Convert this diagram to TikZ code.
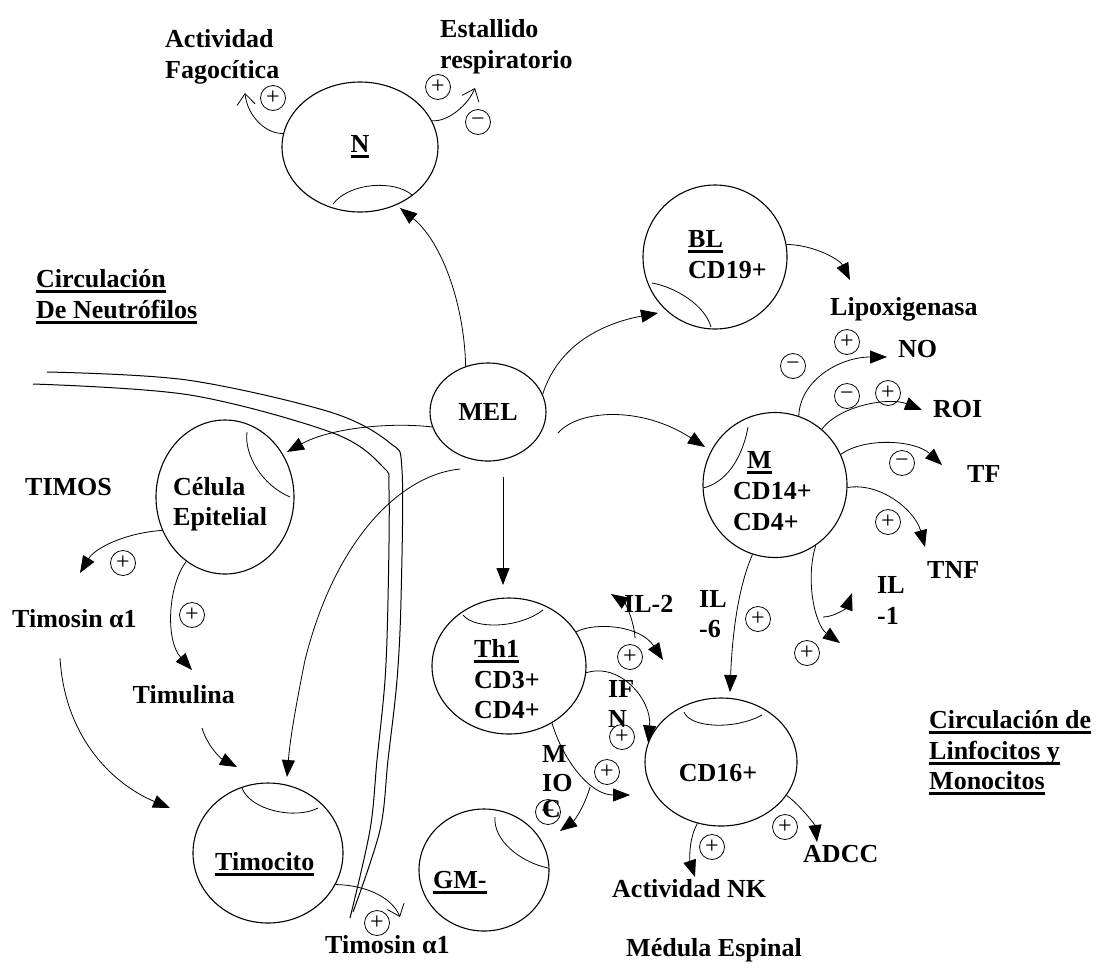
\documentclass[tikz,border=0pt]{standalone}
\usepackage{fontspec}
\setmainfont{Liberation Serif}
\usetikzlibrary{arrows.meta,shapes.geometric}
\newcommand\ulbox[1]{\setbox0=\hbox{#1}\rlap{\vrule height -3pt depth 5.5pt width \wd0}\box0}
\begin{document}
\begin{tikzpicture}[x=1pt,y=-1pt,
  every node/.style={font=\fontsize{26}{31}\selectfont\bfseries, inner sep=0pt},
  cell/.style={ellipse, draw, line width=1.1pt, inner sep=0pt},
  txt/.style={anchor=base west},
  sgn/.style={circle, draw, line width=0.8pt, minimum size=25pt, inner sep=0pt, font=\fontsize{24}{24}\selectfont\mdseries},
  arr/.style={line width=0.8pt, -{Triangle[length=17pt,width=13pt]}},
  barb/.style={line width=0.8pt, -{Straight Barb[length=11pt,width=18pt]}},
  cn/.style={line width=0.8pt},
  vessel/.style={line width=1pt}]
\useasboundingbox (0,0) rectangle (1099,970);

% ---------- cells ----------
\node[cell, minimum width=156pt, minimum height=130pt] (N) at (360,147) {};
\node[cell, minimum width=116pt, minimum height=98pt] (MEL) at (488,412) {MEL};
\node[cell, minimum width=144pt, minimum height=144pt] (BL) at (715,257) {};
\node[cell, minimum width=144pt, minimum height=145pt] (M) at (775,485) {};
\node[cell, minimum width=138pt, minimum height=154pt] (CE) at (225,497) {};
\node[cell, minimum width=150pt, minimum height=140pt] (TC) at (268,853) {};
\node[cell, minimum width=130pt, minimum height=122pt] (GM) at (484,870) {};
\node[cell, minimum width=154pt, minimum height=136pt] (TH) at (509,666) {};
\node[cell, minimum width=152pt, minimum height=128pt] (CD) at (721,762) {};

% inner arcs
\draw[cn] (333,204) .. controls (350,182) and (395,180) .. (412,195);
\draw[cn] (652,283) .. controls (675,287) and (705,305) .. (711,327);
\draw[cn] (748,427) .. controls (742,460) and (725,483) .. (703,488);
\draw[cn] (247,432) .. controls (244,455) and (262,485) .. (290,497);
\draw[cn] (242,788) .. controls (250,810) and (295,820) .. (318,808);
\draw[cn] (495,817) .. controls (493,840) and (520,862) .. (548,868);
\draw[cn] (463,615) .. controls (475,630) and (520,628) .. (543,610);
\draw[cn] (684,712) .. controls (690,728) and (735,730) .. (762,715);

% vessel (double line)
\draw[vessel] plot[smooth,tension=0.55] coordinates {(33,384) (190,395) (333,433) (383,467) (389,490) (388,600) (385,680) (377,760) (370,830) (350,918)};
\draw[vessel] plot[smooth,tension=0.55] coordinates {(47,372) (187,380) (330,412) (390,443) (402,470) (401,600) (397,680) (388,760) (380,830) (353,912)};

% ---------- texts ----------
\node[txt] (tA1) at (165,47) {Actividad};
\node[txt] (tA2) at (165,78) {Fagocítica};
\node[txt] (tE1) at (440,37) {Estallido};
\node[txt] (tE2) at (440,68) {respiratorio};
\node[anchor=base] (tN) at (360,152) {\ulbox{N}};
\node[txt] (tC1) at (36,287) {\ulbox{Circulación}};
\node[txt] (tC2) at (36,318) {\ulbox{De Neutrófilos}};
\node[txt] (tBL) at (688,247) {\ulbox{BL}};
\node[txt] (tBL2) at (688,278) {CD19+};
\node[txt] (tLx) at (830,315) {Lipoxigenasa};
\node[txt] (tNO) at (898,357) {NO};
\node[txt] (tROI) at (933,417) {ROI};
\node[txt] (tTF) at (967,482) {TF};
\node[txt] (tTNF) at (927,578) {TNF};
\node[txt] (tIL1a) at (877,593) {IL};
\node[txt] (tIL1b) at (877,624) {-1};
\node[txt] (tM1) at (747,468) {\ulbox{M}};
\node[txt] (tM2) at (733,499) {CD14+};
\node[txt] (tM3) at (733,530) {CD4+};
\node[txt] (tCE1) at (173,495) {Célula};
\node[txt] (tCE2) at (173,525) {Epitelial};
\node[txt] (tTIM) at (25,495) {TIMOS};
\node[txt] (tTa) at (12,627) {Timosin α1};
\node[anchor=base east] (tTu) at (235,703) {Timulina};
\node[txt] (tTC) at (215,870) {\ulbox{Timocito}};
\node[txt] (tTb) at (325,953) {Timosin α1};
\node[txt] (tGM) at (433,888) {\ulbox{GM-}};
\node[txt] (tTH1) at (474,657) {\ulbox{Th1}};
\node[txt] (tTH2) at (474,688) {CD3+};
\node[txt] (tTH3) at (474,718) {CD4+};
\node[txt] (tIL2) at (624,612) {IL-2};
\node[txt] (tIL6a) at (699,607) {IL};
\node[txt] (tIL6b) at (699,637) {-6};
\node[txt] (tIFa) at (608,697) {IF};
\node[txt] (tIFb) at (608,727) {N};
\node[txt] (tMIa) at (542,762) {M};
\node[txt] (tMIb) at (542,791) {IO};
\node[txt] (tMIc) at (542,817) {C};
\node[anchor=base] (tCD) at (718,781) {CD16+};
\node[txt] (tNK) at (612,897) {Actividad NK};
\node[txt] (tAD) at (803,862) {ADCC};
\node[anchor=base] (tME) at (714,956) {Médula Espinal};
\node[txt] (tL1) at (929,728) {\ulbox{Circulación de}};
\node[txt] (tL2) at (929,759) {\ulbox{Linfocitos y}};
\node[txt] (tL3) at (929,789) {\ulbox{Monocitos}};

% ---------- free ends ----------
\coordinate (aF) at (245,93);
\coordinate (aE) at (475,88);
\coordinate (aN) at (400,208);
\coordinate (aBL) at (658,313);
\coordinate (sM) at (558,433);
\coordinate (aM) at (705,447);
\coordinate (aCE) at (287,452);
\coordinate (sTC) at (460,469);
\coordinate (mTC) at (305,660);
\coordinate (aTC1) at (287,777);
\coordinate (sTH) at (503,477);
\coordinate (aTH) at (503,585);
\coordinate (aLx) at (850,280);
\coordinate (aNO) at (887,357);
\coordinate (aROI) at (922,410);
\coordinate (aTF) at (942,465);
\coordinate (aTNF) at (925,547);
\coordinate (aIL1a) at (840,643);
\coordinate (sIL1b) at (823,617);
\coordinate (aIL1b) at (852,593);
\coordinate (aCD) at (730,692);
\coordinate (sIL2) at (635,638);
\coordinate (aIL2) at (611,594);
\coordinate (aTH1) at (663,660);
\coordinate (aMIO) at (630,795);
\coordinate (sGM) at (590,787);
\coordinate (aGM) at (560,831);
\coordinate (aTa) at (80,573);
\coordinate (aTu) at (192,670);
\coordinate (sTu) at (202,728);
\coordinate (aTC2) at (237,767);
\coordinate (sTa) at (60,658);
\coordinate (aTC3) at (170,808);
\coordinate (aTb) at (400,917);
\coordinate (aNK) at (695,877);
\coordinate (aAD) at (817,842);

% ---------- connectors ----------
\draw[barb] (N.170) .. controls (265,134) and (247,115) .. (aF);
\draw[barb] (N.20) .. controls (448,122) and (468,105) .. (aE);
\draw[arr] (MEL.116) .. controls (464,300) and (440,240) .. (aN);
\draw[arr] (MEL.18) .. controls (560,340) and (610,322) .. (aBL);
\draw[arr] (sM) .. controls (578,410) and (640,405) .. (aM);
\draw[arr] (MEL.195) .. controls (390,422) and (330,428) .. (aCE);
\draw[arr] (sTC) .. controls (400,475) and (335,540) .. (mTC) .. controls (295,710) and (290,740) .. (aTC1);
\draw[arr] (sTH) -- (aTH);

\draw[arr] (BL.10) .. controls (815,245) and (840,260) .. (aLx);
\draw[arr] (M.71) .. controls (800,380) and (840,357) .. (aNO);
\draw[arr] (M.50) .. controls (840,405) and (890,397) .. (aROI);
\draw[arr] (M.25) .. controls (865,437) and (915,440) .. (aTF);
\draw[arr] (M.-2) .. controls (880,482) and (915,510) .. (aTNF);
\draw[arr] (M.-56) .. controls (805,580) and (815,625) .. (aIL1a);
\draw[arr] (sIL1b) .. controls (835,617) and (847,607) .. (aIL1b);
\draw[arr] (M.-108) .. controls (737,590) and (732,640) .. (aCD);

\draw[arr] (sIL2) .. controls (634,620) and (625,603) .. (aIL2);
\draw[arr] (TH.27) .. controls (595,622) and (640,625) .. (aTH1);
\draw[arr] (TH.-5) .. controls (620,662) and (652,700) .. (CD.165);
\draw[arr] (TH.-53) .. controls (563,760) and (590,795) .. (aMIO);
\draw[arr] (sGM) .. controls (585,805) and (575,820) .. (aGM);

\draw[arr] (CE.208) .. controls (125,533) and (95,548) .. (aTa);
\draw[arr] (CE.-121) .. controls (168,585) and (165,640) .. (aTu);
\draw[arr] (sTu) .. controls (207,745) and (220,758) .. (aTC2);
\draw[arr] (sTa) .. controls (65,740) and (115,785) .. (aTC3);
\draw[barb] (TC.-25) .. controls (365,885) and (392,897) .. (aTb);

\draw[arr] (CD.-111) .. controls (688,840) and (690,862) .. (aNK);
\draw[arr] (CD.-27) .. controls (800,805) and (815,825) .. (aAD);

% ---------- signs ----------
\node[sgn] (s1) at (273,98) {+};
\node[sgn] (s2) at (438,87) {+};
\node[sgn] (s3) at (478,122) {−};
\node[sgn] (s4) at (123,563) {+};
\node[sgn] (s5) at (192,615) {+};
\node[sgn] (s6) at (377,923) {+};
\node[sgn] (s7) at (847,342) {+};
\node[sgn] (s8) at (793,366) {−};
\node[sgn] (s9) at (847,396) {−};
\node[sgn] (s10) at (888,393) {+};
\node[sgn] (s11) at (902,463) {−};
\node[sgn] (s12) at (888,522) {+};
\node[sgn] (s13) at (758,619) {+};
\node[sgn] (s14) at (807,653) {+};
\node[sgn] (s15) at (630,657) {+};
\node[sgn] (s16) at (622,737) {+};
\node[sgn] (s17) at (607,772) {+};
\node[sgn] (s18) at (548,812) {+};
\node[sgn] (s19) at (712,847) {+};
\node[sgn] (s20) at (785,827) {+};
\end{tikzpicture}
\end{document}
